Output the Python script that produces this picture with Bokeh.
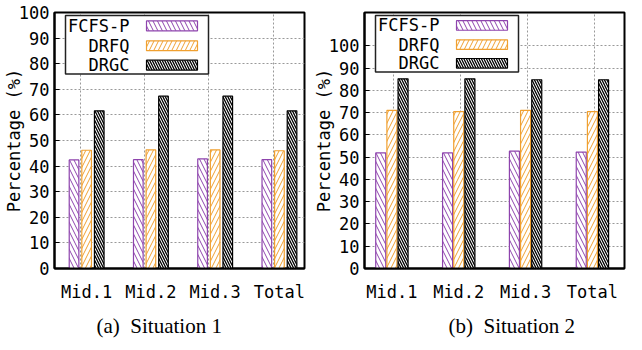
from bokeh.plotting import figure
from bokeh.models import ColumnDataSource, FixedTicker, BoxAnnotation, Label, Title, Range1d
from bokeh.layouts import row
from bokeh.transform import dodge
from bokeh.embed import file_html
from bokeh.resources import INLINE

# ---- data ----
categories = ["Mid.1", "Mid.2", "Mid.3", "Total"]
series_names = ["FCFS-P", "DRFQ", "DRGC"]
s1_fcfs_p = [42.4, 42.5, 42.8, 42.5]
s1_drfq = [46.2, 46.3, 46.3, 46.0]
s1_drgc = [61.6, 67.3, 67.3, 61.6]
s2_fcfs_p = [51.9, 51.9, 52.7, 52.3]
s2_drfq = [71.0, 70.5, 71.0, 70.5]
s2_drgc = [85.2, 85.2, 84.8, 84.8]
y_ticks = [0, 10, 20, 30, 40, 50, 60, 70, 80, 90, 100]
y_label = "Percentage (%)"
captions = ["(a)\u00a0 Situation 1", "(b)\u00a0 Situation 2"]

MONO = "DejaVu Sans Mono"
SERIF = "Liberation Serif"
PURPLE = "#8e44ad"
ORANGE = "#f0a030"
styles = [
    dict(color=PURPLE, hatch="\\", scale=9, weight=1.0),
    dict(color=ORANGE, hatch="/", scale=9, weight=1.0),
    dict(color="black", hatch="\\", scale=5, weight=1.3),
]

HEIGHT = 344
MIN_BOTTOM = 74


def make_panel(vals, caption, width, min_left, min_right, min_top, x_start, x_end,
               y_end, offset, grid_shift, caption_offset):
    p = figure(width=width, height=HEIGHT, x_range=Range1d(x_start, x_end),
               y_range=Range1d(0, y_end), output_backend="svg", toolbar_location=None,
               title=None,
               min_border_left=min_left, min_border_right=min_right,
               min_border_top=min_top, min_border_bottom=MIN_BOTTOM)
    p.background_fill_color = "white"
    p.border_fill_color = "white"
    p.outline_line_color = "black"
    p.outline_line_width = 2
    p.outline_line_alpha = 1

    idx = list(range(len(categories)))
    src = ColumnDataSource(dict(x=idx, a=vals[0], b=vals[1], c=vals[2]))
    for k, (col, st) in enumerate(zip(["a", "b", "c"], styles)):
        p.vbar(x=dodge("x", (k - 1) * offset), top=col, width=0.15, source=src,
               fill_color="white", line_color=st["color"], line_width=1.2,
               hatch_pattern=st["hatch"], hatch_color=st["color"],
               hatch_scale=st["scale"], hatch_weight=st["weight"])

    # axes
    p.yaxis.ticker = FixedTicker(ticks=y_ticks)
    p.yaxis.major_label_text_font = MONO
    p.yaxis.major_label_text_font_size = "17px"
    p.yaxis.major_label_text_color = "black"
    p.yaxis.major_tick_in = 5
    p.yaxis.major_tick_out = 0
    p.yaxis.major_tick_line_color = "black"
    p.yaxis.minor_tick_line_color = None
    p.yaxis.major_label_standoff = 5
    p.yaxis.axis_label = y_label
    p.yaxis.axis_label_text_font = MONO
    p.yaxis.axis_label_text_font_size = "17px"
    p.yaxis.axis_label_text_font_style = "normal"
    p.yaxis.axis_label_text_color = "black"
    p.yaxis.axis_label_standoff = -8

    p.xaxis.ticker = FixedTicker(ticks=idx)
    p.xaxis.major_label_overrides = {i: c for i, c in zip(idx, categories)}
    p.xaxis.major_label_text_font = MONO
    p.xaxis.major_label_text_font_size = "17px"
    p.xaxis.major_label_text_color = "black"
    p.xaxis.major_tick_line_color = None
    p.xaxis.major_tick_in = 0
    p.xaxis.major_tick_out = 0
    p.xaxis.minor_tick_line_color = None
    p.xaxis.major_label_standoff = 13

    for ax in (p.xaxis[0], p.yaxis[0]):
        ax.axis_line_color = "black"
        ax.axis_line_width = 2

    p.xgrid.ticker = FixedTicker(ticks=[i + grid_shift for i in idx])
    p.grid.grid_line_color = "#999999"
    p.grid.grid_line_dash = "2 2"
    p.grid.grid_line_width = 1

    # legend (label on the left, swatch on the right, as in the original);
    # x in frame pixels, y anchored to the top of the value range
    fh = HEIGHT - min_top - MIN_BOTTOM
    ppx = y_end / fh
    bx, by = 11, 3
    p.add_layout(BoxAnnotation(left=bx, right=bx + 143,
                               top=y_end - by * ppx, bottom=y_end - (by + 59) * ppx,
                               left_units="screen", right_units="screen",
                               fill_color="white", fill_alpha=1.0,
                               line_color="#222222", line_width=1.5, line_alpha=1.0))
    rows_y = [10.5, 30.5, 50]
    for name, st, ry in zip(series_names, styles, rows_y):
        cy = y_end - (by + ry) * ppx
        p.add_layout(BoxAnnotation(left=bx + 81, right=bx + 132,
                                   top=cy + 5 * ppx, bottom=cy - 5 * ppx,
                                   left_units="screen", right_units="screen",
                                   fill_color="white", fill_alpha=1.0,
                                   line_color=st["color"], line_width=1.2, line_alpha=1.0,
                                   hatch_pattern=st["hatch"], hatch_color=st["color"],
                                   hatch_scale=st["scale"], hatch_weight=st["weight"]))
        p.add_layout(Label(x=bx + 64, y=cy, x_units="screen", text=name,
                           text_align="right", text_baseline="middle", text_font=MONO,
                           text_font_size="17px", text_color="black"))

    p.add_layout(Title(text=caption, align="left", offset=caption_offset, standoff=14,
                       text_font=SERIF, text_font_size="21px", text_font_style="normal",
                       text_color="black"), "below")
    return p


p1 = make_panel([s1_fcfs_p, s1_drfq, s1_drgc], captions[0], width=310,
                min_left=50, min_right=6, min_top=12, x_start=-0.50, x_end=3.39, y_end=100,
                offset=0.196, grid_shift=-0.1, caption_offset=42)
p2 = make_panel([s2_fcfs_p, s2_drfq, s2_drgc], captions[1], width=316,
                min_left=54, min_right=2, min_top=3, x_start=-0.41, x_end=3.48, y_end=115,
                offset=0.167, grid_shift=0.03, caption_offset=84)

layout = row(p1, p2)
open("out.html", "w").write(file_html(layout, INLINE))
